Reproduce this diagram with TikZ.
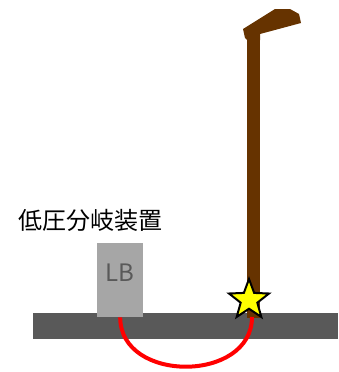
\documentclass[tikz,border=0pt]{standalone}
\usepackage{fontspec}
\newfontfamily\jpfont{Noto Sans CJK JP}
\usetikzlibrary{positioning, shapes.geometric}
\definecolor{RoadGray}{HTML}{595959}
\definecolor{BoxGray}{HTML}{A6A6A6}
\definecolor{PoleBrown}{HTML}{663300}
\definecolor{CableRed}{HTML}{FF0000}
\definecolor{JointYellow}{HTML}{FFFF00}

\begin{document}
\begin{tikzpicture}[
    x=1pt, y=-1pt,
    road/.style = {rectangle, fill=RoadGray, minimum width=305pt, minimum height=26pt, inner sep=0pt, anchor=north west},
    lbbox/.style = {rectangle, fill=BoxGray, minimum width=46pt, minimum height=74pt, inner sep=0pt, anchor=north west},
    lbtext/.style = {font=\jpfont\fontsize{24pt}{28pt}\selectfont, text=RoadGray, inner sep=0pt},
    caption/.style = {font=\jpfont\fontsize{24pt}{28pt}\selectfont, text=black, inner sep=0pt},
    pole/.style = {fill=PoleBrown},
    joint/.style = {star, star points=5, star point ratio=2.4, minimum size=42pt, inner sep=0pt, fill=JointYellow, draw=black, line width=2pt},
    cable/.style = {draw=CableRed, line width=4pt}
]
    \useasboundingbox (0,0) rectangle (338,372);

    % ground and branch box
    \node [road] (road) at (33,313) {};
    \node [lbbox] (lb) at (97,243) {};
    \node [lbtext] (lbname) at ([yshift=7pt]lb.center) {LB};
    \node [caption] (title) at (90,220) {低圧分岐装置};

    % street light
    \fill [pole] (247,33) rectangle (260,318);
    \fill [pole] (243,29) -- (275,9) -- (290,9) -- (299,14) -- (301,23)
        -- (260,34) -- (260,40) -- (247,40) -- (245,38) -- cycle;

    % cable under the road
    \coordinate (tap) at (252,317);
    \draw [cable] (lb.south) .. controls +(0,66) and +(0,66) .. (tap);
    \node [joint] (star) at (249,300) {};
\end{tikzpicture}
\end{document}
